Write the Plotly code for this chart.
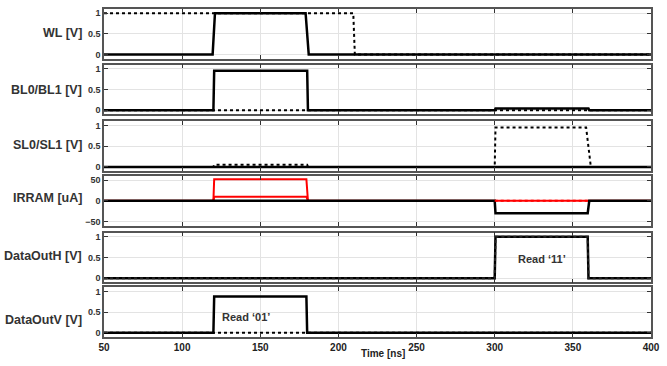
import plotly.graph_objects as go
from plotly.subplots import make_subplots

# ---------------- data ----------------
panel_labels = ["WL [V]", "BL0/BL1 [V]", "SL0/SL1 [V]", "IRRAM [uA]", "DataOutH [V]", "DataOutV [V]"]

wl_t_solid = [50, 119.5, 121, 179, 181, 400]
wl_solid = [0, 0, 1, 1, 0, 0]
wl_t_dot = [50, 209.5, 210.5, 400]
wl_dot = [1, 1, 0, 0]

bl_t_solid = [50, 120, 120.5, 180, 180.5, 300, 300.5, 360, 360.5, 400]
bl_solid = [0, 0, 0.95, 0.95, 0, 0, 0.04, 0.04, 0, 0]
bl_t_dot = [50, 400]
bl_dot = [0, 0]

sl_t_solid = [50, 400]
sl_solid = [0, 0]
sl_t_dot = [50, 120, 120.5, 180, 180.5, 300, 300.5, 358.5, 361.5, 400]
sl_dot = [0, 0, 0.05, 0.05, 0, 0, 0.95, 0.95, 0, 0]

irr_t_red_a = [50, 120, 120.5, 179.5, 180.5, 400]
irr_red_a = [0, 0, 52, 52, 0, 0]
irr_t_red_b = [120, 120.5, 179.5, 180.5]
irr_red_b = [0, 10, 10, 0]
irr_t_black = [50, 300, 300.5, 359.5, 360.5, 400]
irr_black = [0, 0, -30, -30, 0, 0]
irr_t_red_dot = [300, 360]
irr_red_dot = [0, 0]

doh_t = [50, 300, 300.5, 359.5, 360, 400]
doh_solid = [0, 0, 1, 1, 0, 0]
doh_dot = [0, 0, 1, 1, 0, 0]

dov_t_solid = [50, 120, 120.5, 179.5, 180, 400]
dov_solid = [0, 0, 0.88, 0.88, 0, 0]
dov_t_dot = [50, 400]
dov_dot = [0, 0]

x_ticks = [50, 100, 150, 200, 250, 300, 350, 400]
v_ticks = [0, 0.5, 1]
v_tick_text = ["0", "0.5", "1"]
i_ticks = [-50, 0, 50]

# ---------------- figure ----------------
fig = make_subplots(rows=6, cols=1, shared_xaxes=True, vertical_spacing=0.02)

BLACK = "black"
RED = "#ff0000"

def solid(t, v, row, color=BLACK, width=2.5):
    fig.add_trace(go.Scatter(x=t, y=v, mode="lines", line=dict(color=color, width=width),
                             hoverinfo="skip", showlegend=False), row=row, col=1)

def dotted(t, v, row, color=BLACK, width=2):
    fig.add_trace(go.Scatter(x=t, y=v, mode="lines", line=dict(color=color, width=width, dash="3px,3px"),
                             hoverinfo="skip", showlegend=False), row=row, col=1)

solid(wl_t_solid, wl_solid, 1)
dotted(wl_t_dot, wl_dot, 1)

solid(bl_t_solid, bl_solid, 2)
dotted(bl_t_dot, bl_dot, 2)

solid(sl_t_solid, sl_solid, 3)
dotted(sl_t_dot, sl_dot, 3)

solid(irr_t_red_a, irr_red_a, 4, color=RED, width=2)
solid(irr_t_red_b, irr_red_b, 4, color=RED, width=2)
solid(irr_t_black, irr_black, 4, width=2.5)
dotted(irr_t_red_dot, irr_red_dot, 4, color=RED, width=2)

solid(doh_t, doh_solid, 5)
dotted(doh_t, doh_dot, 5, color="#222")

solid(dov_t_solid, dov_solid, 6)
dotted(dov_t_dot, dov_dot, 6)

# layout geometry (pixels)
W, H = 667, 366
L, R, T, B = 104, 9, 7, 29
plot_h = H - T - B
panels_px = [(7, 57), (63, 113), (120, 170), (175, 225), (232, 282), (287, 337)]
label_px = [31, 88, 144, 197, 256, 320]

def py(p):
    return (H - B - p) / plot_h

tickfont = dict(family="Liberation Sans, Arial, sans-serif", size=9, color="#333333", weight="bold")
axis_common = dict(showline=True, linecolor="#555555", linewidth=1.5, mirror="ticks",
                   ticks="inside", ticklen=4, tickwidth=1.3, tickcolor="#333333",
                   showgrid=True, gridcolor="#e3e3e3", gridwidth=1, zeroline=False)

for i in range(6):
    top, bot = panels_px[i]
    yname = "yaxis" if i == 0 else f"yaxis{i+1}"
    xname = "xaxis" if i == 0 else f"xaxis{i+1}"
    if i == 3:
        yax = dict(range=[-60, 60], tickvals=i_ticks)
    else:
        yax = dict(range=[-0.1, 1.1], tickvals=v_ticks, ticktext=v_tick_text)
    fig.layout[yname].update(domain=[py(bot), py(top)], tickfont=tickfont, **yax, **axis_common)
    fig.layout[xname].update(range=[50, 400], tickvals=x_ticks, showticklabels=(i == 5),
                             tickfont=dict(family="Liberation Sans, Arial, sans-serif", size=10,
                                           color="#222222", weight="bold"),
                             **axis_common)
    fig.add_annotation(xref="paper", yref="paper", x=-0.036, y=py(label_px[i]),
                       text=panel_labels[i], showarrow=False, xanchor="right", yanchor="middle",
                       font=dict(family="Liberation Sans, Arial, sans-serif", size=12.5,
                                 color="#333333", weight="bold"))

fig.add_annotation(xref="paper", yref="paper", x=0.51, y=py(354), text="Time [ns]",
                   showarrow=False, xanchor="center", yanchor="middle",
                   font=dict(family="Liberation Sans, Arial, sans-serif", size=10, color="#222222", weight="bold"))

fig.add_annotation(xref="x5", yref="y5", x=330, y=0.47, text="Read \u201811\u2019", showarrow=False,
                   font=dict(family="Liberation Sans, Arial, sans-serif", size=11, color="#333333", weight="bold"))
fig.add_annotation(xref="x6", yref="y6", x=141, y=0.38, text="Read \u201801\u2019", showarrow=False,
                   font=dict(family="Liberation Sans, Arial, sans-serif", size=11, color="#333333", weight="bold"))

fig.update_layout(width=W, height=H, margin=dict(l=L, r=R, t=T, b=B, pad=0),
                  paper_bgcolor="white", plot_bgcolor="white", showlegend=False)

fig.write_html("out.html", config={"displayModeBar": False},
               post_script="document.body.style.margin='0';document.body.style.overflow='hidden';")
